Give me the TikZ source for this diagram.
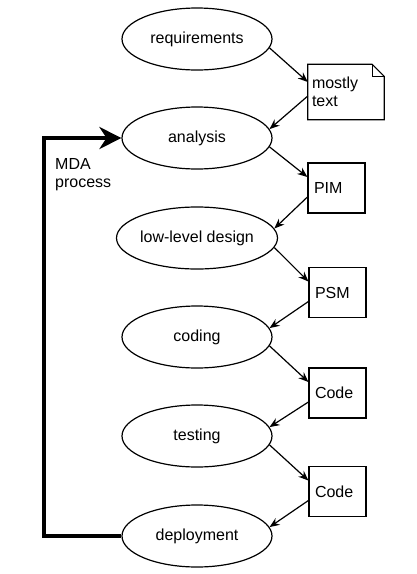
\documentclass[tikz,border=0pt]{standalone}
\usepackage{fontspec}
\setmainfont{Liberation Sans}
\usetikzlibrary{shapes.geometric, arrows.meta}

\begin{document}
\begin{tikzpicture}[
  x=1pt, y=-1pt,
  phase/.style = {ellipse, draw, line width=1.2pt, minimum width=150pt, minimum height=62pt, inner sep=0pt, font=\fontsize{16}{18}\selectfont},
  box/.style = {rectangle, draw, line width=1.2pt, minimum width=57pt, minimum height=50pt, text width=45pt, inner sep=6pt, align=left, font=\fontsize{16}{18}\selectfont},
  note/.style = {rectangle, minimum width=76pt, minimum height=55pt, text width=68pt, inner sep=4pt, align=left, font=\fontsize{16}{18}\selectfont},
  arrow/.style = {-{Stealth[length=10pt, width=8pt]}, line width=1.2pt},
  loop/.style = {-{Stealth[length=22pt, width=22pt]}, line width=4.5pt}
]
\useasboundingbox (0,0) rectangle (416,574);

% Column 1: process phases
\node[phase] at (197,39) (req) {requirements};
\node[phase] at (197,138) (analysis) {analysis};
\node[phase] at (197,238) (design) {low-level design};
\node[phase] at (197,337) (coding) {coding};
\node[phase] at (197,436) (testing) {testing};
\node[phase] at (197,536) (deploy) {deployment};

% Column 2: artefacts
\node[note] at (346,92) (notes) {mostly\\text};
\draw[line width=1.2pt] (notes.south west) -- (notes.north west) -- ([xshift=-12pt]notes.north east) -- ([yshift=-12pt]notes.north east) -- (notes.south east) -- cycle;
\draw[line width=1.2pt] ([xshift=-12pt]notes.north east) |- ([yshift=-12pt]notes.north east);
\node[box] at (336.5,188) (pim) {PIM};
\node[box] at (337.5,292.5) (psm) {PSM};
\node[box] at (337.5,393) (code1) {Code};
\node[box] at (337.5,491.5) (code2) {Code};

% Arrows from phases to artefacts
\draw[arrow] (req.-7) -- ([yshift=10pt]notes.west);
\draw[arrow] (analysis.-7) -- ([yshift=11pt]pim.west);
\draw[arrow] (design.-7) -- ([yshift=11pt]psm.west);
\draw[arrow] (coding.-7) -- ([yshift=11pt]code1.west);
\draw[arrow] (testing.-7) -- ([yshift=11pt]code2.west);

% Arrows from artefacts back to phases
\draw[arrow] ([yshift=-4pt]notes.west) -- (analysis.7);
\draw[arrow] ([yshift=-9pt]pim.west) -- (design.7);
\draw[arrow] ([yshift=-9pt]psm.west) -- (coding.7);
\draw[arrow] ([yshift=-9pt]code1.west) -- (testing.7);
\draw[arrow] ([yshift=-9pt]code2.west) -- (deploy.7);

% MDA loop
\coordinate (back) at (44,336);
\draw[loop] (deploy.west) -| (back) |- (analysis.west);
\node[anchor=north west, align=left, font=\fontsize{16}{18}\selectfont, inner sep=0pt] at (55,158) (mda) {MDA\\process};

\end{tikzpicture}
\end{document}
